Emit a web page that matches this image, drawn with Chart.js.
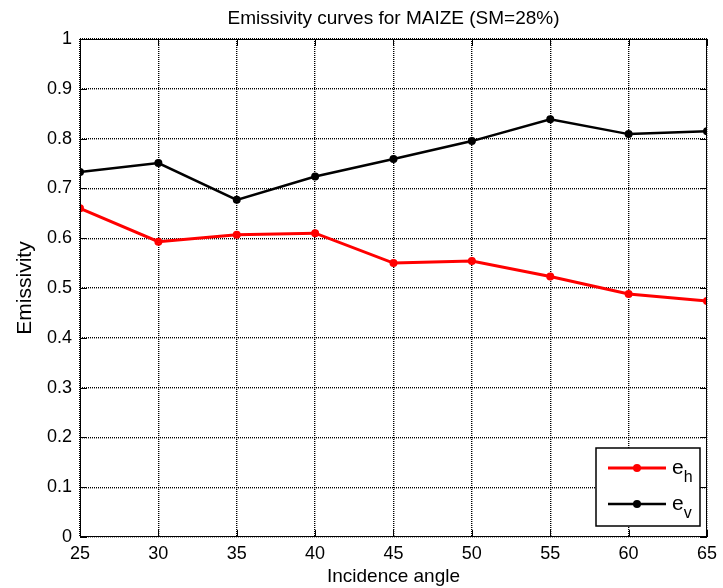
<!DOCTYPE html>
<html>
<head>
<meta charset="utf-8">
<script src="https://cdn.jsdelivr.net/npm/chart.js@4.4.1/dist/chart.umd.min.js"></script>
<style>
    html, body { margin: 0; padding: 0; background: #fff; }
    #wrap { width: 723px; height: 588px; }
</style>
</head>
<body>
<div id="wrap"><canvas id="emissivityGraphic"></canvas></div>
<script>
// данные
const incidenceAngles = [25, 30, 35, 40, 45, 50, 55, 60, 65];
const ehValues = [0.660, 0.593, 0.607, 0.610, 0.550, 0.554, 0.523, 0.488, 0.474];
const evValues = [0.733, 0.751, 0.677, 0.724, 0.759, 0.795, 0.839, 0.809, 0.815];
const yTicks = [0, 0.1, 0.2, 0.3, 0.4, 0.5, 0.6, 0.7, 0.8, 0.9, 1];
const chartTitle = 'Emissivity curves for MAIZE (SM=28%)';

const FONT = "'Liberation Sans', Arial, sans-serif";

function toPoints(xs, ys) {
    let points = [];
    for (let i = 0; i < xs.length; i++) {
        points.push({x: xs[i], y: ys[i]});
    }
    return points;
}

// рамка вокруг графика и засечки внутрь, как в матлабе
const matlabBox = {
    id: 'matlabBox',
    afterDatasetsDraw(chart) {
        const ctx = chart.ctx;
        const area = chart.chartArea;
        const xScale = chart.scales.x;
        const yScale = chart.scales.y;
        const tick = 7;
        ctx.save();
        ctx.strokeStyle = '#000';
        ctx.lineWidth = 1;
        ctx.strokeRect(area.left + 0.5, area.top + 0.5, area.right - area.left - 1, area.bottom - area.top - 1);
        ctx.beginPath();
        incidenceAngles.forEach(a => {
            const px = Math.round(xScale.getPixelForValue(a)) + 0.5;
            ctx.moveTo(px, area.bottom);
            ctx.lineTo(px, area.bottom - tick);
            ctx.moveTo(px, area.top);
            ctx.lineTo(px, area.top + tick);
        });
        yTicks.forEach(v => {
            const py = Math.round(yScale.getPixelForValue(v)) + 0.5;
            ctx.moveTo(area.left, py);
            ctx.lineTo(area.left + tick, py);
            ctx.moveTo(area.right, py);
            ctx.lineTo(area.right - tick, py);
        });
        ctx.stroke();
        ctx.restore();
    },
    afterDraw(chart) {
        const ctx = chart.ctx;
        const area = chart.chartArea;
        ctx.save();

        // заголовок по центру области графика, а не всего холста
        ctx.fillStyle = '#000';
        ctx.font = '19px ' + FONT;
        ctx.textAlign = 'center';
        ctx.textBaseline = 'middle';
        ctx.fillText(chartTitle, (area.left + area.right) / 2, 18.5);

        // легенда с индексами, штатная так не умеет
        const box = {left: 596, top: 448, right: 700, bottom: 526};
        ctx.fillStyle = '#fff';
        ctx.fillRect(box.left, box.top, box.right - box.left, box.bottom - box.top);
        ctx.strokeStyle = '#000';
        ctx.lineWidth = 1.5;
        ctx.strokeRect(box.left, box.top, box.right - box.left, box.bottom - box.top);

        const entries = [
            {color: '#ff0000', width: 3, y: 468, main: 'e', sub: 'h'},
            {color: '#000000', width: 2.5, y: 504, main: 'e', sub: 'v'}
        ];
        entries.forEach(e => {
            ctx.strokeStyle = e.color;
            ctx.fillStyle = e.color;
            ctx.lineWidth = e.width;
            ctx.beginPath();
            ctx.moveTo(608, e.y);
            ctx.lineTo(666, e.y);
            ctx.stroke();
            ctx.beginPath();
            ctx.arc(637, e.y, 4, 0, Math.PI * 2);
            ctx.fill();

            ctx.fillStyle = '#000';
            ctx.textBaseline = 'alphabetic';
            ctx.textAlign = 'left';
            ctx.font = '21px ' + FONT;
            ctx.fillText(e.main, 672, e.y + 6);
            const w = ctx.measureText(e.main).width;
            ctx.font = '16px ' + FONT;
            ctx.fillText(e.sub, 672 + w, e.y + 14);
        });
        ctx.restore();
    }
};

function createGraphic() {
    const ctx = document.getElementById('emissivityGraphic');
    new Chart(ctx, {
        type: 'line',
        data: {
            datasets: [{
                label: 'e_h',
                data: toPoints(incidenceAngles, ehValues),
                borderColor: '#ff0000',
                backgroundColor: '#ff0000',
                borderWidth: 3,
                pointRadius: 4,
                pointBorderWidth: 0,
                tension: 0
            }, {
                label: 'e_v',
                data: toPoints(incidenceAngles, evValues),
                borderColor: '#000000',
                backgroundColor: '#000000',
                borderWidth: 2.5,
                pointRadius: 4,
                pointBorderWidth: 0,
                tension: 0
            }]
        },
        options: {
            responsive: true,
            maintainAspectRatio: false,
            animation: false,
            events: [],
            layout: {padding: {left: 0, right: 13, top: 39, bottom: 0}},
            plugins: {
                legend: {display: false},
                tooltip: {enabled: false},
                title: {display: false}
            },
            scales: {
                x: {
                    type: 'linear',
                    min: 25,
                    max: 65,
                    afterFit: s => { s.height = 51; },
                    ticks: {
                        stepSize: 5,
                        color: '#000',
                        padding: 6,
                        maxRotation: 0,
                        font: {family: FONT, size: 18}
                    },
                    grid: {color: '#000', lineWidth: 1.4, drawTicks: false},
                    border: {display: false, dash: [1, 1]},
                    title: {
                        display: true,
                        text: 'Incidence angle',
                        color: '#000',
                        font: {family: FONT, size: 19},
                        padding: {top: 0, bottom: 0}
                    }
                },
                y: {
                    min: 0,
                    max: 1,
                    afterFit: s => { s.width = 80; },
                    ticks: {
                        stepSize: 0.1,
                        color: '#000',
                        padding: 8,
                        font: {family: FONT, size: 18},
                        callback: v => Math.round(v * 10) / 10
                    },
                    grid: {color: '#000', lineWidth: 1.4, drawTicks: false},
                    border: {display: false, dash: [1, 1]},
                    title: {
                        display: true,
                        text: 'Emissivity',
                        color: '#000',
                        font: {family: FONT, size: 21},
                        padding: {top: 13, bottom: 0}
                    }
                }
            }
        },
        plugins: [matlabBox]
    });
}

createGraphic();
</script>
</body>
</html>
